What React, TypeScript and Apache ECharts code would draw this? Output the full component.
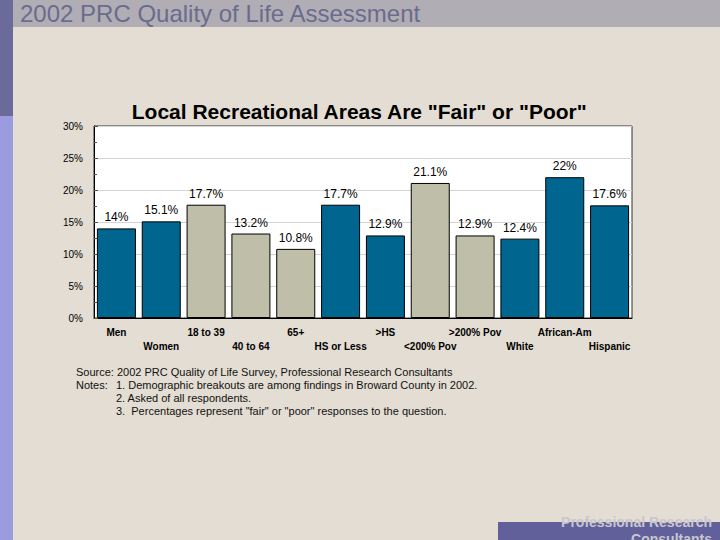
import { useEffect, useRef } from "react";
import * as echarts from "echarts";

const categories = [
  "Men",
  "Women",
  "18 to 39",
  "40 to 64",
  "65+",
  "HS or Less",
  ">HS",
  "<200% Pov",
  ">200% Pov",
  "White",
  "African-Am",
  "Hispanic",
];
const values = [14, 15.1, 17.7, 13.2, 10.8, 17.7, 12.9, 21.1, 12.9, 12.4, 22, 17.6];
// which breakout each bar belongs to
const groups = ["sex", "sex", "age", "age", "age", "edu", "edu", "inc", "inc", "eth", "eth", "eth"];
const yTicks = [0, 5, 10, 15, 20, 25, 30];

const notes = [
  "Source: 2002 PRC Quality of Life Survey, Professional Research Consultants",
  "Notes:",
];
const noteItems = [
  "1. Demographic breakouts are among findings in Broward County in 2002.",
  "2. Asked of all respondents.",
  "3.  Percentages represent \"fair\" or \"poor\" responses to the question.",
];

const BLUE = "#006690";
const TAN = "#bfbea8";
const groupColor = { sex: BLUE, age: TAN, edu: BLUE, inc: TAN, eth: BLUE };

const FONT = "'Liberation Sans', Arial, sans-serif";

const App = () => {
  const chartRef = useRef(null);

  useEffect(() => {
    const chart = echarts.init(chartRef.current, null, { renderer: "svg" });

    const noteStyle = (text) => ({ text, fill: "#111", font: `11px ${FONT}` });

    const option: any = {
      animation: false,
      backgroundColor: "#e3ddd3",
      textStyle: { fontFamily: FONT },
      graphic: [
        // left strip
        { type: "rect", left: 0, top: 0, shape: { width: 13, height: 116 }, style: { fill: "#6b6b9b" } },
        { type: "rect", left: 0, top: 116, shape: { width: 13, height: 424 }, style: { fill: "#9b9be0" } },
        // header bar
        { type: "rect", left: 13, top: 0, shape: { width: 707, height: 27 }, style: { fill: "#b0aeb4" } },
        {
          type: "text",
          left: 20,
          top: 1,
          style: { text: "2002 PRC Quality of Life Assessment", fill: "#6b6b8e", font: `24px ${FONT}` },
        },
        // chart title
        {
          type: "text",
          left: "center",
          top: 101,
          style: {
            text: 'Local Recreational Areas Are "Fair" or "Poor"',
            fill: "#000",
            font: `bold 21px ${FONT}`,
          },
        },
        // notes
        { type: "text", left: 76, top: 366, style: noteStyle(notes[0]) },
        { type: "text", left: 76, top: 379, style: noteStyle(notes[1]) },
        ...noteItems.map((n, i) => ({
          type: "text",
          left: 116,
          top: 379 + i * 13,
          style: noteStyle(n),
        })),
        // footer
        { type: "rect", left: 498, top: 522, shape: { width: 222, height: 18 }, style: { fill: "#62609a" } },
        {
          type: "text",
          right: 8,
          top: 515,
          style: { text: "Professional Research", fill: "#c9c7cd", font: `bold 14px ${FONT}` },
        },
        {
          type: "text",
          right: 8,
          top: 532,
          style: { text: "Consultants", fill: "#c9c7cd", font: `bold 14px ${FONT}` },
        },
      ],
      grid: {
        show: true,
        left: 94,
        top: 126,
        width: 538,
        height: 192,
        backgroundColor: "#ffffff",
        borderColor: "#333",
        borderWidth: 1,
      },
      xAxis: {
        type: "category",
        data: categories,
        axisLine: { lineStyle: { color: "#000" } },
        axisTick: { show: false },
        axisLabel: {
          interval: 0,
          color: "#000",
          fontSize: 10,
          fontWeight: "bold",
          lineHeight: 14,
          margin: 7,
          formatter: (v, i) => (i % 2 ? "\n" + v : v),
        },
      },
      yAxis: {
        type: "value",
        min: yTicks[0],
        max: yTicks[yTicks.length - 1],
        interval: 5,
        axisLine: { show: true, lineStyle: { color: "#000" } },
        axisTick: { show: true, inside: true, length: 4, lineStyle: { color: "#555" } },
        minorTick: { show: true, splitNumber: 2, length: 3, lineStyle: { color: "#555" } },
        splitLine: { lineStyle: { color: "#d4d4d4" } },
        axisLabel: { color: "#000", fontSize: 10, margin: 11, formatter: "{value}%" },
      },
      series: [
        {
          type: "bar",
          barCategoryGap: "13%",
          data: values.map((v, i) => ({
            value: v,
            itemStyle: { color: groupColor[groups[i]] },
          })),
          itemStyle: { borderColor: "#000", borderWidth: 1 },
          label: {
            show: true,
            position: "top",
            distance: 5,
            formatter: "{c}%",
            color: "#000",
            fontSize: 12,
          },
        },
      ],
    };

    chart.setOption(option);

    return () => {
      chart.dispose();
    };
  }, []);

  return (
    <div
      ref={chartRef}
      style={{ position: "fixed", left: 0, top: 0, width: "720px", height: "540px" }}
    />
  );
};

export default App;
